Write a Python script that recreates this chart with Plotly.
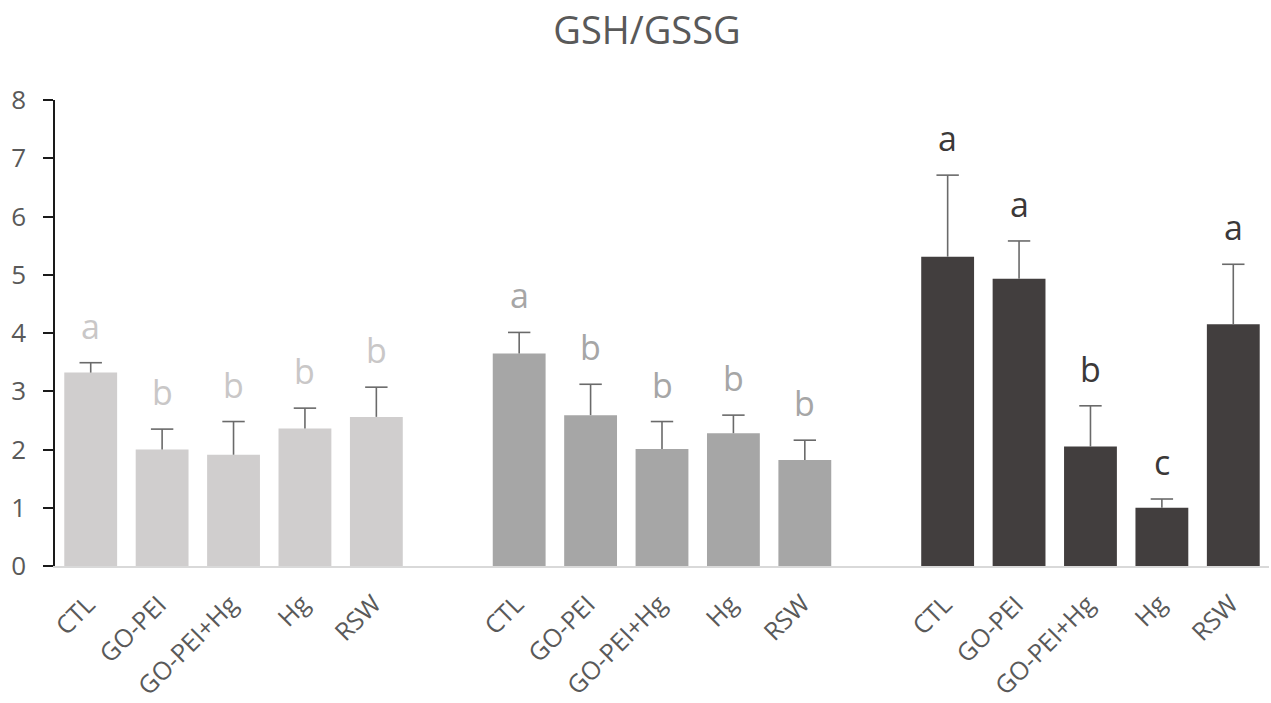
import plotly.graph_objects as go

categories = ["CTL", "GO-PEI", "GO-PEI+Hg", "Hg", "RSW"]

# three groups (light, medium, dark bars)
values_g1 = [3.32, 2.00, 1.91, 2.36, 2.56]
errors_g1 = [0.17, 0.35, 0.57, 0.35, 0.51]
letters_g1 = ["a", "b", "b", "b", "b"]

values_g2 = [3.65, 2.59, 2.01, 2.28, 1.82]
errors_g2 = [0.36, 0.53, 0.47, 0.31, 0.34]
letters_g2 = ["a", "b", "b", "b", "b"]

values_g3 = [5.31, 4.93, 2.05, 1.00, 4.15]
errors_g3 = [1.40, 0.65, 0.70, 0.15, 1.03]
letters_g3 = ["a", "a", "b", "c", "a"]

y_ticks = [0, 1, 2, 3, 4, 5, 6, 7, 8]

groups = [
    (values_g1, errors_g1, letters_g1, "#d0cece", "#c9c7c7"),
    (values_g2, errors_g2, letters_g2, "#a6a6a6", "#a6a6a6"),
    (values_g3, errors_g3, letters_g3, "#423e3e", "#3b3838"),
]

FONT = "Open Sans, Segoe UI, DejaVu Sans, sans-serif"
ERR_COLOR = "#6a6a6a"
W, H = 1271, 703
fig = go.Figure()
annotations = []
n = len(categories)
for g, (vals, errs, lets, bar_col, let_col) in enumerate(groups):
    xs = [g * (n + 1) + i for i in range(n)]
    tops = [v + e for v, e in zip(vals, errs)]
    fig.add_trace(go.Bar(
        x=xs, y=vals, width=0.74,
        marker=dict(color=bar_col, line=dict(width=0)),
        showlegend=False, hoverinfo="skip",
    ))
    # upper-only error bars: stems and caps
    stem_x, stem_y = [], []
    for x, v, t in zip(xs, vals, tops):
        stem_x += [x, x, None]
        stem_y += [v, t, None]
    fig.add_trace(go.Scatter(
        x=stem_x, y=stem_y, mode="lines",
        line=dict(color=ERR_COLOR, width=1.6),
        showlegend=False, hoverinfo="skip",
    ))
    fig.add_trace(go.Scatter(
        x=xs, y=tops, mode="markers",
        marker=dict(symbol="line-ew-open", size=16, color=ERR_COLOR,
                    line=dict(color=ERR_COLOR, width=1.6)),
        showlegend=False, hoverinfo="skip",
    ))
    for x, t, s in zip(xs, tops, lets):
        annotations.append(dict(
            x=x, y=t, xref="x", yref="y", text=s, showarrow=False,
            yanchor="bottom", yshift=12,
            font=dict(family=FONT, size=34, color=let_col),
        ))
    # rotated category labels
    for x, c in zip(xs, categories):
        annotations.append(dict(
            x=x, y=0, xref="x", yref="y", text=c, showarrow=False,
            textangle=-45, xanchor="right", yanchor="top",
            xshift=14, yshift=-18,
            font=dict(family=FONT, size=25, color="#595959"),
        ))

fig.update_layout(
    width=W, height=H,
    margin=dict(l=55, r=2, t=100, b=137),
    paper_bgcolor="white", plot_bgcolor="white",
    barmode="overlay",
    title=dict(text="GSH/GSSG", x=647 / W, xanchor="center",
               y=1 - 31 / H, yanchor="middle",
               font=dict(family=FONT, size=38, color="#595959")),
    annotations=annotations,
)
fig.update_xaxes(
    range=[-0.5, 3 * n + 2 - 0.5],
    showticklabels=False, ticks="", showgrid=False, zeroline=False,
    showline=True, linecolor="#d9d9d9", linewidth=1.5,
)
fig.update_yaxes(
    range=[0, 8], tickmode="array", tickvals=y_ticks,
    ticks="outside", ticklen=10, tickwidth=1.5, tickcolor="#1a1a1a",
    showline=True, linecolor="#1a1a1a", linewidth=1.5,
    showgrid=False, zeroline=False, ticklabelstandoff=12,
    tickfont=dict(family=FONT, size=26, color="#595959"),
)

fig.write_html("out.html", config={"displayModeBar": False},
               post_script="document.body.style.margin='0';document.body.style.overflow='hidden';")
